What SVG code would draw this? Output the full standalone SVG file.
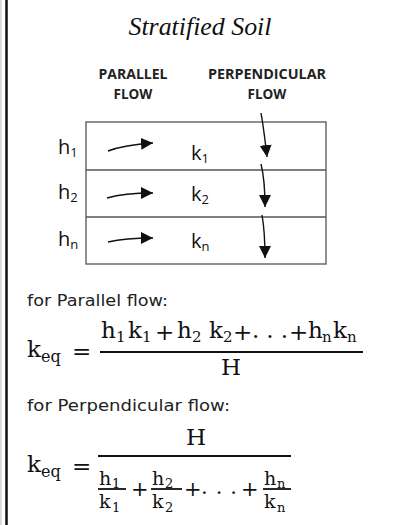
<svg xmlns="http://www.w3.org/2000/svg" width="393" height="525" viewBox="0 0 393 525">
<style>
.lbl{font-family:"Open Sans","Liberation Sans",sans-serif;fill:#111}
.hd{font-family:"Open Sans","Liberation Sans",sans-serif;font-weight:700;font-size:13.5px;fill:#222;text-anchor:middle}
.cap{font-family:"DejaVu Sans","Liberation Sans",sans-serif;font-size:15px;fill:#222}
.m{font-family:"DejaVu Serif","Liberation Serif",serif;fill:#111}
.arr{fill:none;stroke:#111;stroke-width:1.4}
.bar{stroke:#111;stroke-width:1.8}
</style>
<defs>
<marker id="ah" markerUnits="userSpaceOnUse" markerWidth="14" markerHeight="14" refX="12" refY="6" orient="auto" viewBox="0 0 14 14">
<path d="M0,0 L12,6 L0,12 Z" fill="#111"/>
</marker>
</defs>
<rect width="393" height="525" fill="#fff"/>
<line x1="0.8" y1="0" x2="0.8" y2="525" stroke="#d6d6d6" stroke-width="1.6"/>
<line x1="6.5" y1="0" x2="6.5" y2="525" stroke="#111" stroke-width="2.5"/>

<g id="title">
<text x="200" y="35" text-anchor="middle" font-family="'Liberation Serif',serif" font-style="italic" font-size="25" textLength="143" lengthAdjust="spacingAndGlyphs" fill="#111">Stratified Soil</text>
</g>

<g id="headers">
<text class="hd" x="133" y="79" textLength="69" lengthAdjust="spacingAndGlyphs">PARALLEL</text>
<text class="hd" x="133" y="99">FLOW</text>
<text class="hd" x="267" y="79" textLength="118" lengthAdjust="spacingAndGlyphs">PERPENDICULAR</text>
<text class="hd" x="267" y="99">FLOW</text>
</g>

<g id="layers">
<rect x="86" y="122" width="240" height="142" fill="none" stroke="#555" stroke-width="1.3"/>
<line x1="86" y1="170" x2="326" y2="170" stroke="#555" stroke-width="1.3"/>
<line x1="86" y1="217" x2="326" y2="217" stroke="#555" stroke-width="1.3"/>
</g>

<g id="layer-1">
<text class="lbl" x="58" y="154" font-size="20">h<tspan font-size="13" dy="3">1</tspan></text>
<text class="lbl" x="191" y="160" font-size="20">k<tspan font-size="13" dy="3">1</tspan></text>
</g>
<g id="layer-2">
<text class="lbl" x="58" y="199" font-size="20">h<tspan font-size="13" dy="3">2</tspan></text>
<text class="lbl" x="191" y="201" font-size="20">k<tspan font-size="13" dy="3">2</tspan></text>
</g>
<g id="layer-n">
<text class="lbl" x="58" y="246" font-size="20">h<tspan font-size="13" dy="3">n</tspan></text>
<text class="lbl" x="191" y="248" font-size="20">k<tspan font-size="13" dy="3">n</tspan></text>
</g>

<g id="connectors">
<path class="arr" marker-end="url(#ah)" d="M108,151 Q124,145 153,143"/>
<path class="arr" marker-end="url(#ah)" d="M107,198 Q124,193 153,193"/>
<path class="arr" marker-end="url(#ah)" d="M108,242 Q125,238 153,238"/>
<path class="arr" marker-end="url(#ah)" d="M261,113 Q264,130 267,157"/>
<path class="arr" marker-end="url(#ah)" d="M261,164 Q265,180 265,207"/>
<path class="arr" marker-end="url(#ah)" d="M262,215 Q265,232 265,258"/>
</g>

<g id="parallel-formula">
<text class="cap" x="27" y="306" textLength="141" lengthAdjust="spacingAndGlyphs">for Parallel flow:</text>
<text class="m" x="27" y="357" font-size="23">k<tspan font-size="16" dy="5">eq</tspan></text>
<text class="m" x="72" y="359" font-size="23">=</text>
<line class="bar" x1="100" y1="352" x2="363" y2="352"/>
<text class="m" x="101" y="338" font-size="23">h</text><text class="m" x="116" y="342" font-size="15">1</text>
<text class="m" x="128" y="338" font-size="23">k</text><text class="m" x="142" y="342" font-size="15">1</text>
<text class="m" x="155" y="340" font-size="23">+</text>
<text class="m" x="177" y="338" font-size="23">h</text><text class="m" x="192" y="342" font-size="15">2</text>
<text class="m" x="209" y="338" font-size="23">k</text><text class="m" x="223" y="342" font-size="15">2</text>
<text class="m" x="233" y="340" font-size="23">+</text>
<text class="m" x="252" y="338" font-size="23" textLength="36" lengthAdjust="spacing">...</text>
<text class="m" x="289" y="340" font-size="23">+</text>
<text class="m" x="308" y="338" font-size="23">h</text><text class="m" x="322" y="342" font-size="15">n</text>
<text class="m" x="333" y="338" font-size="23">k</text><text class="m" x="347" y="342" font-size="15">n</text>
<text class="m" x="231" y="375" font-size="23" text-anchor="middle">H</text>
</g>

<g id="perpendicular-formula">
<text class="cap" x="27" y="411" textLength="203" lengthAdjust="spacingAndGlyphs">for Perpendicular flow:</text>
<text class="m" x="27" y="472" font-size="23">k<tspan font-size="16" dy="5">eq</tspan></text>
<text class="m" x="72" y="474" font-size="23">=</text>
<line class="bar" x1="98" y1="456" x2="291" y2="456"/>
<text class="m" x="196" y="445" font-size="23" text-anchor="middle">H</text>
<line class="bar" x1="98" y1="489" x2="126" y2="489"/>
<text class="m" x="99" y="485" font-size="19">h</text><text class="m" x="112" y="488" font-size="13">1</text>
<text class="m" x="99" y="508" font-size="19">k</text><text class="m" x="112" y="512" font-size="13">1</text>
<text class="m" x="131" y="496" font-size="21">+</text>
<line class="bar" x1="151" y1="489" x2="182" y2="489"/>
<text class="m" x="152" y="485" font-size="19">h</text><text class="m" x="165" y="488" font-size="13">2</text>
<text class="m" x="152" y="508" font-size="19">k</text><text class="m" x="165" y="512" font-size="13">2</text>
<text class="m" x="184" y="496" font-size="21">+</text>
<text class="m" x="201" y="494" font-size="21" textLength="36" lengthAdjust="spacing">...</text>
<text class="m" x="241" y="496" font-size="21">+</text>
<line class="bar" x1="263" y1="489" x2="291" y2="489"/>
<text class="m" x="264" y="485" font-size="19">h</text><text class="m" x="277" y="488" font-size="13">n</text>
<text class="m" x="264" y="508" font-size="19">k</text><text class="m" x="277" y="512" font-size="13">n</text>
</g>
</svg>
